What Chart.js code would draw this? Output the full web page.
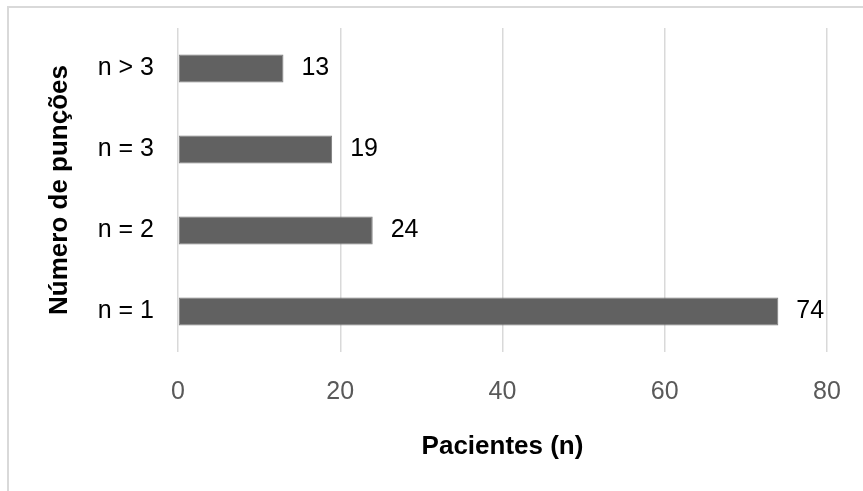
<!DOCTYPE html>
<html>
<head>
<meta charset="utf-8">
<script src="https://cdn.jsdelivr.net/npm/chart.js@4/dist/chart.umd.min.js"></script>
<style>
  html, body { margin: 0; padding: 0; background: #ffffff; }
  #wrap { position: relative; width: 863px; height: 491px; overflow: hidden; }
  #frame {
    position: absolute; left: 7px; top: 6px; width: 900px; height: 600px;
    border-left: 2px solid #d9d9d9; border-top: 2px solid #d9d9d9;
  }
  canvas { position: absolute; left: 0; top: 0; }
</style>
</head>
<body>
<div id="wrap">
  <div id="frame"></div>
  <canvas id="chart" width="863" height="491"></canvas>
</div>
<script>
// Number of punctures per patient (top to bottom as drawn)
const categories = ['n > 3', 'n = 3', 'n = 2', 'n = 1'];
const patients = [13, 19, 24, 74];
const xTickValues = [0, 20, 40, 60, 80];

const FONT = "'Liberation Sans', Arial, sans-serif";

// Writes each bar's value just past its end
const valueLabels = {
  id: 'valueLabels',
  afterDatasetsDraw(chart) {
    const ctx = chart.ctx;
    const meta = chart.getDatasetMeta(0);
    const values = chart.data.datasets[0].data;
    ctx.save();
    ctx.font = '25px ' + FONT;
    ctx.fillStyle = '#000000';
    ctx.textAlign = 'left';
    ctx.textBaseline = 'middle';
    meta.data.forEach((bar, i) => {
      ctx.fillText(String(values[i]), bar.x + 18, bar.y);
    });
    ctx.restore();
  }
};

new Chart(document.getElementById('chart'), {
  type: 'bar',
  data: {
    labels: categories,
    datasets: [{
      data: patients,
      backgroundColor: '#616161',
      borderColor: '#7a7a7a',
      borderWidth: 1,
      borderSkipped: false,
      categoryPercentage: 1,
      barPercentage: 0.346
    }]
  },
  options: {
    indexAxis: 'y',
    responsive: false,
    animation: false,
    layout: { padding: { left: 0, top: 28, right: 36, bottom: 0 } },
    plugins: {
      legend: { display: false },
      tooltip: { enabled: false }
    },
    scales: {
      x: {
        min: 0,
        max: 80,
        afterFit(scale) {
          scale.height = 139;
          scale.paddingLeft = 0;
          scale.paddingRight = 0;
        },
        afterBuildTicks(scale) { scale.ticks = xTickValues.map(v => ({ value: v })); },
        grid: { color: '#d9d9d9', lineWidth: 1.5, drawTicks: false },
        border: { display: false },
        ticks: {
          padding: 25,
          color: '#595959',
          font: { family: FONT, size: 25 }
        },
        title: {
          display: true,
          text: 'Pacientes (n)',
          color: '#000000',
          font: { family: FONT, size: 26, weight: 'bold' },
          padding: { top: 0, bottom: 29 }
        }
      },
      y: {
        afterFit(scale) {
          scale.width = 178;
          scale.paddingTop = 0;
          scale.paddingBottom = 0;
        },
        grid: { display: false, drawTicks: false },
        border: { display: false },
        ticks: {
          padding: 24,
          color: '#000000',
          font: { family: FONT, size: 25 }
        },
        title: {
          display: true,
          text: 'Número de punções',
          color: '#000000',
          font: { family: FONT, size: 26, weight: 'bold' },
          padding: { top: 44, bottom: 0 }
        }
      }
    }
  },
  plugins: [valueLabels]
});
</script>
</body>
</html>
